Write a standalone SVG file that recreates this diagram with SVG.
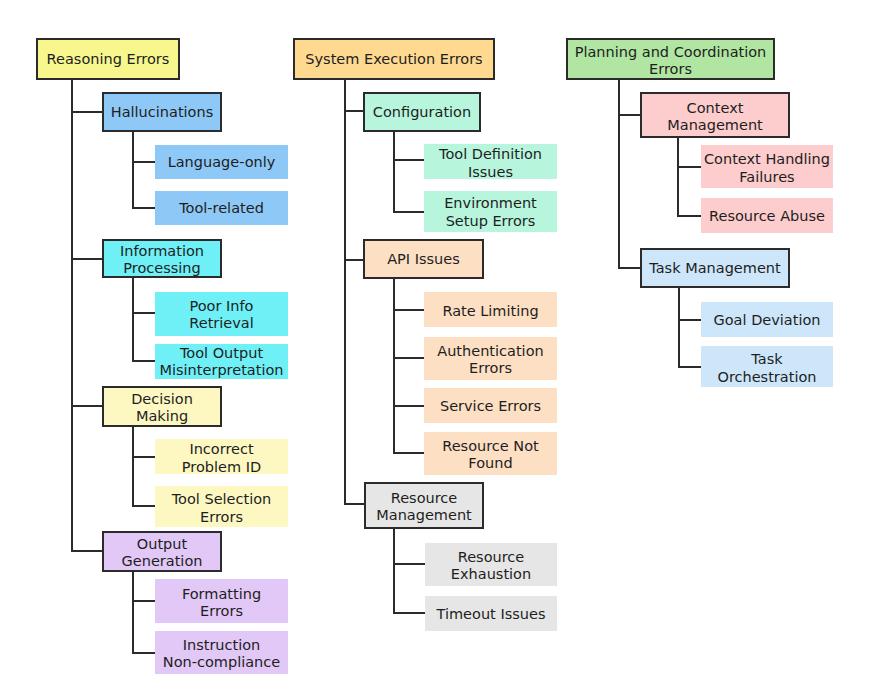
<svg xmlns="http://www.w3.org/2000/svg" width="886" height="700" viewBox="0 0 886 700">
<style>
text{font-family:"DejaVu Sans","Liberation Sans",sans-serif;font-size:14.5px;fill:#1e1e1e;text-anchor:middle}
.b{stroke:#2b2b2b;stroke-width:2}
.c{fill:none;stroke:#2b2b2b;stroke-width:2}
.y{fill:#f7f78e}.o{fill:#fed98f}.g{fill:#b0e6a2}
.bl{fill:#8ec8f6}.cy{fill:#6ef0f6}.ly{fill:#fdf8c2}.pu{fill:#e2c8f6}
.mi{fill:#b8f5dd}.pe{fill:#fddfc4}.gr{fill:#e6e6e6}.pk{fill:#fdcccc}.lb{fill:#cde6fa}
</style>
<rect width="886" height="700" fill="#ffffff"/>
<g id="connectors">
<path class="c" d="M72 79V552M72 112H103M72 259H103M72 406H103M72 551H103"/>
<path class="c" d="M133 131V209M133 162H155M133 208H155"/>
<path class="c" d="M133 277V362M133 313H155M133 361H155"/>
<path class="c" d="M133 426V507M133 457H155M133 506H155"/>
<path class="c" d="M133 571V654M133 601H155M133 653H155"/>
<path class="c" d="M345 79V505M345 111H364M345 260H364M345 504H365"/>
<path class="c" d="M394 131V213M394 160H424M394 212H424"/>
<path class="c" d="M394 278V454M394 310H424M394 358H424M394 406H424M394 453H424"/>
<path class="c" d="M394 528V614M394 564H425M394 613H425"/>
<path class="c" d="M619 79V269M619 115H641M619 268H641"/>
<path class="c" d="M678 137V217M678 167H701M678 216H701"/>
<path class="c" d="M679 287V368M679 320H701M679 367H701"/>
</g>
<g id="reasoning-errors"><rect class="b y" x="37" y="39" width="142" height="40"/><text x="108" y="64">Reasoning Errors</text></g>
<g id="system-execution-errors"><rect class="b o" x="294" y="39" width="200" height="40"/><text x="394" y="64">System Execution Errors</text></g>
<g id="planning-coordination-errors"><rect class="b g" x="567" y="39" width="207" height="40"/><text x="670.5" y="56.5">Planning and Coordination</text><text x="670.5" y="74">Errors</text></g>

<g id="hallucinations"><rect class="b bl" x="103" y="93" width="118" height="38"/><text x="162" y="117">Hallucinations</text></g>
<g id="language-only"><rect class="bl" x="155" y="145" width="133" height="34"/><text x="221.5" y="167">Language-only</text></g>
<g id="tool-related"><rect class="bl" x="155" y="191" width="133" height="34"/><text x="221.5" y="213">Tool-related</text></g>

<g id="information-processing"><rect class="b cy" x="103" y="240" width="118" height="37"/><text x="162" y="256">Information</text><text x="162" y="273">Processing</text></g>
<g id="poor-info-retrieval"><rect class="cy" x="155" y="292" width="133" height="44"/><text x="221.5" y="311">Poor Info</text><text x="221.5" y="328">Retrieval</text></g>
<g id="tool-output-misinterpretation"><rect class="cy" x="155" y="344" width="133" height="35"/><text x="221.5" y="358">Tool Output</text><text x="221.5" y="375">Misinterpretation</text></g>

<g id="decision-making"><rect class="b ly" x="103" y="387" width="118" height="39"/><text x="162" y="404">Decision</text><text x="162" y="421">Making</text></g>
<g id="incorrect-problem-id"><rect class="ly" x="155" y="439" width="133" height="35"/><text x="221.5" y="454">Incorrect</text><text x="221.5" y="471.5">Problem ID</text></g>
<g id="tool-selection-errors"><rect class="ly" x="155" y="486" width="133" height="41"/><text x="221.5" y="504">Tool Selection</text><text x="221.5" y="521.5">Errors</text></g>

<g id="output-generation"><rect class="b pu" x="103" y="532" width="118" height="39"/><text x="162" y="549">Output</text><text x="162" y="566">Generation</text></g>
<g id="formatting-errors"><rect class="pu" x="155" y="579" width="133" height="44"/><text x="221.5" y="599">Formatting</text><text x="221.5" y="616">Errors</text></g>
<g id="instruction-non-compliance"><rect class="pu" x="155" y="631" width="133" height="43"/><text x="221.5" y="650">Instruction</text><text x="221.5" y="667">Non-compliance</text></g>

<g id="configuration"><rect class="b mi" x="364" y="93" width="116" height="38"/><text x="422" y="117">Configuration</text></g>
<g id="tool-definition-issues"><rect class="mi" x="424" y="144" width="133" height="35"/><text x="490.5" y="159">Tool Definition</text><text x="490.5" y="177">Issues</text></g>
<g id="environment-setup-errors"><rect class="mi" x="424" y="191" width="133" height="41"/><text x="490.5" y="208">Environment</text><text x="490.5" y="226">Setup Errors</text></g>

<g id="api-issues"><rect class="b pe" x="364" y="240" width="119" height="38"/><text x="423.5" y="264">API Issues</text></g>
<g id="rate-limiting"><rect class="pe" x="424" y="292" width="133" height="35"/><text x="490.5" y="316">Rate Limiting</text></g>
<g id="authentication-errors"><rect class="pe" x="424" y="337" width="133" height="43"/><text x="490.5" y="355.5">Authentication</text><text x="490.5" y="373">Errors</text></g>
<g id="service-errors"><rect class="pe" x="424" y="388" width="133" height="35"/><text x="490.5" y="411">Service Errors</text></g>
<g id="resource-not-found"><rect class="pe" x="424" y="432" width="133" height="43"/><text x="490.5" y="451">Resource Not</text><text x="490.5" y="468">Found</text></g>

<g id="resource-management"><rect class="b gr" x="365" y="483" width="118" height="45"/><text x="424" y="503">Resource</text><text x="424" y="520">Management</text></g>
<g id="resource-exhaustion"><rect class="gr" x="425" y="543" width="132" height="43"/><text x="491" y="562">Resource</text><text x="491" y="579">Exhaustion</text></g>
<g id="timeout-issues"><rect class="gr" x="425" y="596" width="132" height="35"/><text x="491" y="619">Timeout Issues</text></g>

<g id="context-management"><rect class="b pk" x="641" y="93" width="148" height="44"/><text x="715" y="113">Context</text><text x="715" y="130">Management</text></g>
<g id="context-handling-failures"><rect class="pk" x="701" y="145" width="132" height="43"/><text x="767" y="164">Context Handling</text><text x="767" y="181.5">Failures</text></g>
<g id="resource-abuse"><rect class="pk" x="701" y="198" width="132" height="35"/><text x="767" y="221">Resource Abuse</text></g>

<g id="task-management"><rect class="b lb" x="641" y="249" width="148" height="38"/><text x="715" y="273">Task Management</text></g>
<g id="goal-deviation"><rect class="lb" x="701" y="302" width="132" height="35"/><text x="767" y="325">Goal Deviation</text></g>
<g id="task-orchestration"><rect class="lb" x="701" y="346" width="132" height="41"/><text x="767" y="364">Task</text><text x="767" y="381.5">Orchestration</text></g>
</svg>
